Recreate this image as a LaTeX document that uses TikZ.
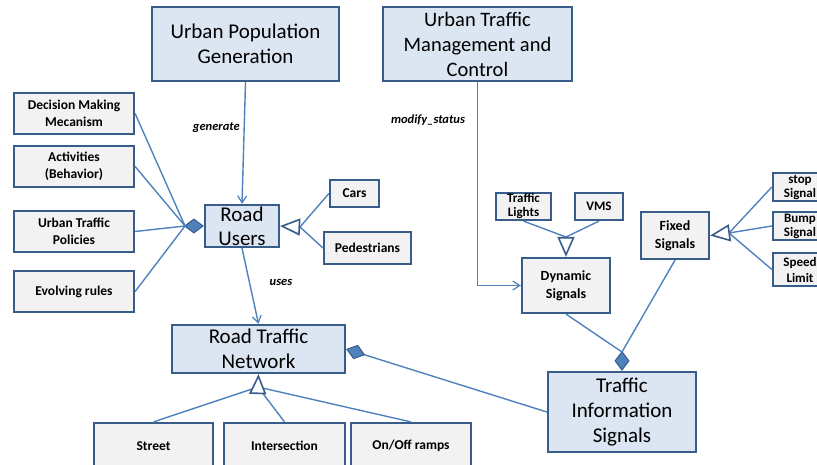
\documentclass[tikz,border=0pt]{standalone}
\usepackage{fontspec}
\setmainfont{Carlito}
\usetikzlibrary{arrows.meta}
\definecolor{edgeblue}{HTML}{385D8A}
\definecolor{lineblue}{HTML}{4F81BD}
\definecolor{paleblue}{HTML}{DCE6F2}
\definecolor{palegray}{HTML}{F2F2F2}
\tikzset{
  box/.style={draw=edgeblue, line width=2.2pt, inner sep=0pt, align=center},
  mainbox/.style={box, fill=paleblue, font=\fontsize{21}{25}\selectfont},
  subbox/.style={box, fill=palegray, font=\bfseries\fontsize{13.5}{17}\selectfont},
  smallsub/.style={subbox, font=\bfseries\fontsize{13}{14}\selectfont},
  link/.style={draw=lineblue, line width=1.4pt},
  uses/.style={link, -{Straight Barb[length=7pt,width=9pt,line width=1.2pt]}},
  whole/.style={link, {Diamond[length=20pt,width=15pt,fill=lineblue,color=edgeblue,line width=1pt]}-},
  kind/.style={link, -{Triangle[open,length=20pt,width=17pt,fill=white,color=edgeblue,line width=1.6pt]}},
  role/.style={font=\bfseries\itshape\fontsize{12.5}{14}\selectfont, inner sep=0pt}
}
\begin{document}
\begin{tikzpicture}[x=1pt, y=-1pt]
\useasboundingbox (0,0) rectangle (817,464);
\clip (0,0) rectangle (817,464);

% top-level packages
\node[mainbox, minimum width=187pt, minimum height=74pt] (upg) at (245.5,44) {Urban Population\\Generation};
\node[mainbox, minimum width=189pt, minimum height=74pt, font=\fontsize{20.5}{25}\selectfont] (utm) at (477.5,44) {Urban Traffic\\Management and\\Control};

% road user side
\node[subbox, minimum width=120pt, minimum height=41pt] (dmm) at (74,113.5) {Decision Making\\Mecanism};
\node[subbox, minimum width=120pt, minimum height=41pt] (act) at (74,166.5) {Activities\\(Behavior)};
\node[subbox, minimum width=120pt, minimum height=41pt] (utp) at (74,231.5) {Urban Traffic\\Policies};
\node[subbox, minimum width=120pt, minimum height=41pt] (evr) at (74,291.5) {Evolving rules};
\node[mainbox, minimum width=74pt, minimum height=42pt, font=\fontsize{21}{24}\selectfont] (ru) at (242,226) {Road\\Users};
\node[subbox, minimum width=49pt, minimum height=27pt] (cars) at (354.5,193.5) {Cars};
\node[subbox, minimum width=87pt, minimum height=32pt] (ped) at (367.5,248) {Pedestrians};

% network
\node[mainbox, minimum width=173pt, minimum height=48pt] (rtn) at (258.5,349) {Road Traffic\\Network};
\node[subbox, minimum width=119pt, minimum height=46pt] (street) at (153.5,446) {Street};
\node[subbox, minimum width=121pt, minimum height=46pt] (inter) at (284.5,446) {Intersection};
\node[subbox, minimum width=120pt, minimum height=46pt] (ramps) at (411,446) {On/Off ramps};

% signals
\node[mainbox, minimum width=148pt, minimum height=80pt] (tis) at (622,412) {Traffic\\Information\\Signals};
\node[smallsub, minimum width=55pt, minimum height=27pt] (tl) at (523.5,206.5) {Traffic\\Lights};
\node[smallsub, minimum width=48pt, minimum height=27pt] (vms) at (599,206.5) {VMS};
\node[subbox, minimum width=88pt, minimum height=55pt, font=\bfseries\fontsize{14}{18}\selectfont] (dyn) at (566,285.5) {Dynamic\\Signals};
\node[subbox, minimum width=68pt, minimum height=47pt, font=\bfseries\fontsize{14}{18}\selectfont] (fix) at (675,235.5) {Fixed\\Signals};
\node[smallsub, minimum width=54pt, minimum height=28pt] (stop) at (800,187) {stop\\Signal};
\node[smallsub, minimum width=54pt, minimum height=28pt] (bump) at (800,226) {Bump\\Signal};
\node[smallsub, minimum width=54pt, minimum height=33pt, font=\bfseries\fontsize{13}{16}\selectfont] (speed) at (800,269.5) {Speed\\Limit};

% junction points of shared diamonds and triangles
\coordinate (ruD) at (185,226);
\coordinate (ruT) at (300,227);
\coordinate (rtnT) at (258,387);
\coordinate (dynT) at (566,237);
\coordinate (fixT) at (729,233);
\coordinate (tisD) at (622,352);

% associations
\draw[uses] (upg.south) -- (ru.north);
\node[role, anchor=east] (lgen) at (240,128) {generate};
\draw[uses] (utm.south) |- (dyn.west);
\node[role] (lmod) at (428,120) {modify\_status};
\draw[uses] (ru.south) -- (rtn.north);
\node[role] (luse) at (281,282) {uses};

% aggregations
\draw[whole] (ru.west) -- (ruD);
\foreach \p in {dmm,act,utp,evr} \draw[link] (\p.east) -- (ruD);
\draw[whole] (rtn.east) -- (tis.west);
\draw[whole] (tis.north) -- (tisD);
\draw[link] (dyn.south) -- (tisD);
\draw[link] (fix.south) -- (tisD);

% generalizations
\foreach \p in {cars,ped} \draw[link] (\p.west) -- (ruT);
\draw[kind] (ruT) -- (ru.east);
\foreach \p in {street,inter,ramps} \draw[link] (\p.north) -- (rtnT);
\draw[kind] (rtnT) -- (rtn.south);
\foreach \p in {tl,vms} \draw[link] (\p.south) -- (dynT);
\draw[kind] (dynT) -- (dyn.north);
\foreach \p in {stop,bump,speed} \draw[link] (\p.west) -- (fixT);
\draw[kind] (fixT) -- (fix.east);
\end{tikzpicture}
\end{document}
